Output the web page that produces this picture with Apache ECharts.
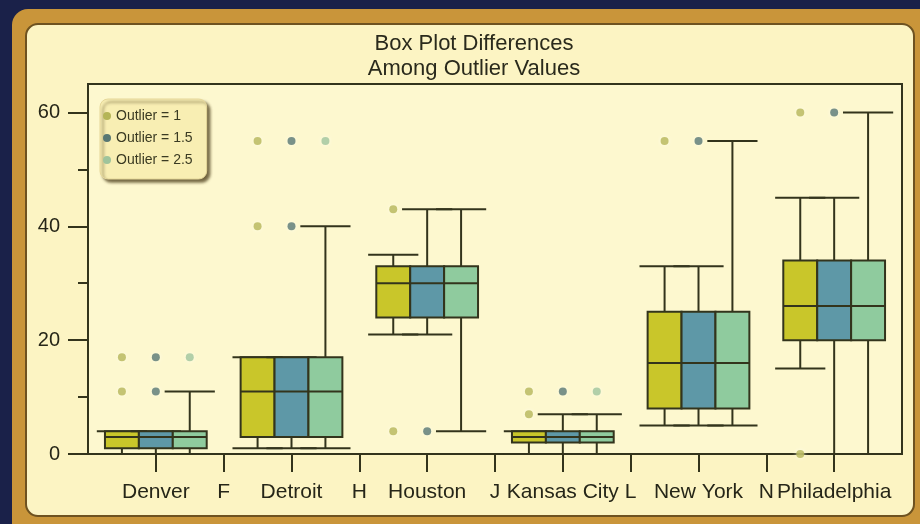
<!DOCTYPE html>
<html>
<head>
<meta charset="utf-8">
<script src="https://cdn.jsdelivr.net/npm/echarts@6/dist/echarts.min.js"></script>
<style>
  html, body { margin: 0; padding: 0; background: #1a2149; }
  #main { width: 920px; height: 524px; }
</style>
</head>
<body>
<div id="main"></div>
<script>
// tick labels along the bottom axis, boxes sit on the named cities
var tickLabels = ['Denver', 'F', 'Detroit', 'H', 'Houston', 'J', 'Kansas City', 'L', 'New York', 'N', 'Philadelphia'];
var cities = ['Denver', 'Detroit', 'Houston', 'Kansas City', 'New York', 'Philadelphia'];
var seriesNames = ['Outlier = 1', 'Outlier = 1.5', 'Outlier = 2.5'];

// box statistics (same data, only the whiskers change)
var q1 = [1, 3, 24, 2, 8, 20];
var median = [3, 11, 30, 3, 16, 26];
var q3 = [4, 17, 33, 4, 25, 34];

var lowWhisker1 = [0, 1, 21, 0, 5, 15];
var highWhisker1 = [4, 17, 35, 4, 33, 45];
var lowWhisker15 = [0, 1, 21, 0, 5, 0];
var highWhisker15 = [4, 17, 43, 7, 33, 45];
var lowWhisker25 = [0, 1, 4, 0, 5, 0];
var highWhisker25 = [11, 40, 43, 7, 55, 60];

var outliers1 = [['Denver', 11], ['Denver', 17], ['Detroit', 40], ['Detroit', 55], ['Houston', 43], ['Houston', 4],
                 ['Kansas City', 7], ['Kansas City', 11], ['New York', 55], ['Philadelphia', 60], ['Philadelphia', 0]];
var outliers15 = [['Denver', 11], ['Denver', 17], ['Detroit', 40], ['Detroit', 55], ['Houston', 4],
                  ['Kansas City', 11], ['New York', 55], ['Philadelphia', 60]];
var outliers25 = [['Denver', 17], ['Detroit', 55], ['Kansas City', 11]];

var lowList = [lowWhisker1, lowWhisker15, lowWhisker25];
var highList = [highWhisker1, highWhisker15, highWhisker25];
var outList = [outliers1, outliers15, outliers25];

var boxColors = ['#c9c62a', '#5e98a7', '#8fcb9e'];
var dotColors = ['#b5b558', '#587773', '#9fc49b'];
var ink = '#33341c';

function xPos(city, s) {
    // three boxes side by side, half a tick step apart
    return tickLabels.indexOf(city) + (s - 1) * 0.5;
}

function renderBox(params, api) {
    var x = api.value(0);
    var lo = api.coord([x, api.value(1)]);
    var b1 = api.coord([x, api.value(2)]);
    var md = api.coord([x, api.value(3)]);
    var b3 = api.coord([x, api.value(4)]);
    var hi = api.coord([x, api.value(5)]);
    var half = api.size([0.25, 0])[0];
    var cap = api.size([0.37, 0])[0];
    var ln = { stroke: ink, lineWidth: 2 };
    return {
        type: 'group',
        children: [
            { type: 'line', shape: { x1: lo[0], y1: lo[1], x2: b1[0], y2: b1[1] }, style: ln },
            { type: 'line', shape: { x1: b3[0], y1: b3[1], x2: hi[0], y2: hi[1] }, style: ln },
            { type: 'line', shape: { x1: lo[0] - cap, y1: lo[1], x2: lo[0] + cap, y2: lo[1] }, style: ln },
            { type: 'line', shape: { x1: hi[0] - cap, y1: hi[1], x2: hi[0] + cap, y2: hi[1] }, style: ln },
            { type: 'rect', shape: { x: b3[0] - half, y: b3[1], width: half * 2, height: b1[1] - b3[1] },
              style: { fill: boxColors[params.seriesIndex / 2 | 0], stroke: ink, lineWidth: 2 } },
            { type: 'line', shape: { x1: md[0] - half, y1: md[1], x2: md[0] + half, y2: md[1] }, style: ln }
        ]
    };
}

var series = [];
for (var s = 0; s < 3; s++) {
    var boxes = [];
    for (var i = 0; i < cities.length; i++) {
        boxes.push([xPos(cities[i], s), lowList[s][i], q1[i], median[i], q3[i], highList[s][i]]);
    }
    var dots = [];
    for (var k = 0; k < outList[s].length; k++) {
        dots.push([xPos(outList[s][k][0], s), outList[s][k][1]]);
    }
    series.push({
        name: seriesNames[s],
        type: 'custom',
        renderItem: renderBox,
        encode: { x: 0, y: [1, 5] },
        itemStyle: { color: dotColors[s] },
        data: boxes,
        z: 3
    });
    series.push({
        name: seriesNames[s],
        type: 'scatter',
        symbol: 'circle',
        symbolSize: 8,
        itemStyle: { color: dotColors[s], shadowColor: 'rgba(255,255,240,0.9)', shadowBlur: 4 },
        data: dots,
        z: 4
    });
}

var font = 'Liberation Sans, Arial, sans-serif';

var option = {
    backgroundColor: '#1a2149',
    animation: false,
    graphic: [
        { type: 'rect', z: -10, shape: { x: 12, y: 9, width: 940, height: 540, r: 16 },
          style: { fill: '#c9953a' } },
        { type: 'rect', z: -9, shape: { x: 26, y: 24, width: 888, height: 492, r: 12 },
          style: { fill: '#fcf4c3', stroke: '#6e5220', lineWidth: 2 } }
    ],
    title: {
        text: 'Box Plot Differences\nAmong Outlier Values',
        left: 469,
        top: 26,
        textAlign: 'center',
        textStyle: { fontFamily: font, fontSize: 22, fontWeight: 'normal', color: '#2a2a1c', lineHeight: 25 }
    },
    legend: {
        orient: 'vertical',
        left: 100,
        top: 99,
        padding: [10, 14, 12, 3],
        itemGap: 8,
        itemWidth: 8,
        itemHeight: 8,
        icon: 'circle',
        backgroundColor: '#f8eeb3',
        borderColor: '#e6d89a',
        borderWidth: 1,
        borderRadius: 8,
        shadowColor: 'rgba(70,55,20,0.75)',
        shadowBlur: 3,
        shadowOffsetX: 3,
        shadowOffsetY: 3,
        textStyle: { fontFamily: font, fontSize: 14, color: '#3a3a22' },
        data: seriesNames.map(function (n, i) {
            return { name: n, itemStyle: { color: dotColors[i] } };
        })
    },
    grid: {
        left: 88, right: 18, top: 84, bottom: 70,
        show: true,
        backgroundColor: '#fdf8cf',
        borderColor: ink,
        borderWidth: 2
    },
    xAxis: {
        type: 'value',
        min: -1,
        max: 11,
        splitLine: { show: false },
        axisLine: { onZero: false, lineStyle: { color: ink, width: 2 } },
        axisTick: { customValues: [0, 1, 2, 3, 4, 5, 6, 7, 8, 9, 10], length: 18, lineStyle: { color: ink, width: 2 } },
        axisLabel: {
            customValues: [0, 1, 2, 3, 4, 5, 6, 7, 8, 9, 10],
            formatter: function (v) { return tickLabels[v] || ''; },
            fontFamily: font, fontSize: 21, color: '#262618', margin: 28
        }
    },
    yAxis: [{
        type: 'value',
        position: 'left',
        min: 0,
        max: 65,
        splitLine: { show: false },
        axisLine: { show: true, onZero: false, lineStyle: { color: ink, width: 2 } },
        axisTick: { show: true, customValues: [0, 20, 40, 60], length: 20, lineStyle: { color: ink, width: 2 } },
        axisLabel: { customValues: [0, 20, 40, 60], fontFamily: font, fontSize: 20, color: '#262618', margin: 28 }
    }, {
        type: 'value',
        position: 'left',
        min: 0,
        max: 65,
        splitLine: { show: false },
        axisLine: { show: false, onZero: false },
        axisTick: { show: true, customValues: [10, 30, 50], length: 10, lineStyle: { color: ink, width: 2 } },
        axisLabel: { show: false }
    }],
    series: series
};

var chart = echarts.init(document.getElementById('main'));
chart.setOption(option);
</script>
</body>
</html>
